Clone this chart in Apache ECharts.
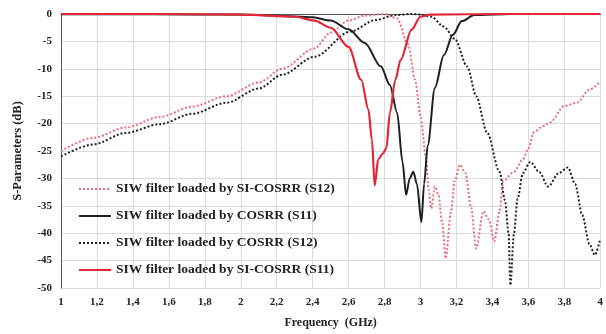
<!DOCTYPE html>
<html><head><meta charset="utf-8">
<script src="https://cdn.jsdelivr.net/npm/echarts@6/dist/echarts.min.js"></script>
<style>html,body{margin:0;padding:0;background:#fff}#c{width:606px;height:334px}</style>
</head><body><div id="c"></div>
<script>
// Red dotted: SIW filter loaded by SI-COSRR (S12)
const fRedS12 = [1.0,1.18,1.36,1.55,1.73,1.92,2.10,2.23,2.41,2.50,2.60,2.69,2.80,2.87,2.93,2.97,3.00,3.03,3.045,3.06,3.08,3.10,3.12,3.14,3.17,3.19,3.22,3.25,3.28,3.31,3.35,3.38,3.41,3.44,3.46,3.52,3.57,3.60,3.63,3.68,3.72,3.80,3.87,3.94,4.0];
const dbRedS12 = [-25.0,-22.6,-20.7,-18.8,-16.9,-15.0,-12.5,-10.0,-6.3,-3.4,-1.2,-0.3,0,-0.8,-5.5,-12,-18.6,-26,-32,-35.5,-31.5,-33,-38,-44.6,-36,-30.5,-27.5,-29,-35,-42.8,-36,-37.5,-41.5,-36,-30.5,-28.8,-26.5,-24.6,-21.6,-20.5,-19.8,-16.8,-16.2,-13.8,-12.3];
// Black solid: SIW filter loaded by COSRR (S11)
const fBlkS11 = [1.0,1.5,2.0,2.2,2.4,2.5,2.6,2.69,2.78,2.83,2.87,2.90,2.92,2.94,2.96,2.98,3.005,3.02,3.04,3.08,3.13,3.18,3.23,3.30,3.5,4.0];
const dbBlkS11 = [-0.05,-0.05,-0.1,-0.3,-0.6,-1.2,-2.8,-5.3,-9.6,-13,-18,-27,-33,-30,-28.8,-31,-38,-31,-24,-13.5,-7.5,-3.8,-1.3,-0.2,0,0];
// Black dotted: SIW filter loaded by COSRR (S12)
const fBlkS12 = [1.0,1.18,1.36,1.55,1.73,1.92,2.10,2.23,2.41,2.61,2.75,2.86,2.95,3.0,3.06,3.13,3.19,3.26,3.31,3.37,3.44,3.47,3.49,3.50,3.52,3.54,3.57,3.61,3.66,3.71,3.77,3.82,3.86,3.90,3.94,3.97,4.0];
const dbBlkS12 = [-26,-23.8,-21.7,-20.1,-18.2,-16.2,-13.6,-11.1,-7.8,-3.2,-1.1,-0.2,0,-0.1,-0.5,-2.3,-4.5,-9.6,-15,-21.6,-28.8,-34,-40,-49.5,-40,-33.7,-29,-27,-28.8,-31.5,-29,-28,-31,-36.7,-42,-44,-41];
// Red solid: SIW filter loaded by SI-COSRR (S11)
const fRedS11 = [1.0,1.5,2.0,2.3,2.41,2.5,2.6,2.67,2.71,2.73,2.745,2.765,2.79,2.81,2.83,2.86,2.89,2.95,3.0,3.05,3.5,4.0];
const dbRedS11 = [0,0,-0.1,-0.5,-1.2,-2.5,-6,-12,-17.4,-23,-31.3,-26.5,-25.5,-24.5,-18,-12,-8.3,-2.9,-0.5,-0.1,0,0];

const names = ['SIW filter loaded by SI-COSRR (S12)','SIW filter loaded by COSRR (S11)','SIW filter loaded by COSRR (S12)','SIW filter loaded by SI-COSRR (S11)'];
const zip = (a,b)=>a.map((v,i)=>[v,b[i]]);
const font = 'Liberation Serif';
const chart = echarts.init(document.getElementById('c'));
chart.setOption({
  animation:false,
  grid:{left:61,right:2,top:14,bottom:44},
  legend:{
    data:names, orient:'vertical', left:73, top:177, itemGap:13, itemWidth:32, itemHeight:15,
    itemStyle:{opacity:0},
    textStyle:{fontFamily:font,fontWeight:'bold',fontSize:13.5,color:'#222'}
  },
  xAxis:{
    type:'value',min:1,max:4,interval:0.2,
    name:'Frequency  (GHz)',nameLocation:'middle',nameGap:29,
    nameTextStyle:{fontFamily:font,fontWeight:'bold',fontSize:12,color:'#222'},
    axisLine:{lineStyle:{color:'#555',width:1}},
    axisTick:{show:false},
    axisLabel:{fontFamily:font,fontWeight:'bold',fontSize:11,color:'#222',margin:9,
      formatter:v=>(Math.round(v*10)/10).toString().replace('.',',')},
    splitLine:{show:true,lineStyle:{color:'#dcdcdc',width:1}}
  },
  yAxis:{
    type:'value',min:-50,max:0,interval:5,
    name:'S-Parameters (dB)',nameLocation:'middle',nameGap:37,
    nameTextStyle:{fontFamily:font,fontWeight:'bold',fontSize:12.5,color:'#222'},
    axisLine:{show:true,lineStyle:{color:'#555',width:1}},
    axisTick:{show:false},
    axisLabel:{fontFamily:font,fontWeight:'bold',fontSize:11,color:'#222',margin:9},
    splitLine:{show:true,lineStyle:{color:'#dcdcdc',width:1}}
  },
  series:[
    {name:names[2],type:'line',symbol:'none',smooth:0.3,smoothMonotone:'x',data:zip(fBlkS12,dbBlkS12),
      lineStyle:{color:'#222',width:2,type:[2,2]},itemStyle:{color:'#222'},z:2},
    {name:names[0],type:'line',symbol:'none',smooth:0.3,smoothMonotone:'x',data:zip(fRedS12,dbRedS12),
      lineStyle:{color:'#e8707c',width:2,type:[2,2]},itemStyle:{color:'#e8707c'},z:3},
    {name:names[1],type:'line',symbol:'none',smooth:0.3,smoothMonotone:'x',data:zip(fBlkS11,dbBlkS11),
      lineStyle:{color:'#1f1f1f',width:2},itemStyle:{color:'#1f1f1f'},z:4},
    {name:names[3],type:'line',symbol:'none',smooth:0.3,smoothMonotone:'x',data:zip(fRedS11,dbRedS11),
      lineStyle:{color:'#e02838',width:2.2},itemStyle:{color:'#e02838'},z:5}
  ]
});
</script></body></html>
